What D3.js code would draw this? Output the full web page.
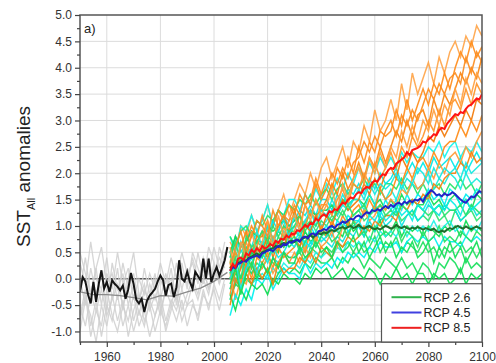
<!DOCTYPE html>
<html>
<head>
<meta charset="utf-8">
<script src="https://cdn.jsdelivr.net/npm/d3@7"></script>
<style>
  body { margin: 0; background: #fff; }
  svg { display: block; font-family: "Liberation Sans", Arial, sans-serif; }
</style>
</head>
<body>
<svg id="chart" width="496" height="363"></svg>
<script>
// ---------- data ----------
// Historical period, multi-model mean (yearly, 1950-2005)
const histYears = d3.range(1950, 2006);
const histMean = [
  -0.25, 0.03, -0.05, -0.30, -0.47, -0.06, -0.44, -0.10, 0.16, -0.19,
  -0.06, -0.25, -0.03, -0.10, -0.15, -0.22, -0.13, -0.38, -0.20, 0.11,
  -0.10, -0.40, -0.47, -0.38, -0.63, -0.42, -0.32, -0.26, -0.19, -0.05,
  0.06, -0.03, -0.32, -0.12, -0.09, -0.35, -0.16, 0.35, 0.00, -0.05,
  0.13, -0.06, -0.19, 0.13, 0.05, -0.03, 0.38, 0.00, 0.38, -0.06,
  0.10, 0.22, 0.06, 0.20, 0.35, 0.60
];

// Smoothed historical ensemble mean (every 5 years)
const histSmoothYears = d3.range(1950, 2006, 5);
const histSmooth = [-0.25, -0.30, -0.30, -0.32, -0.36, -0.40, -0.32, -0.33, -0.25, -0.18, -0.05, 0.12];

// Historical ensemble members (every 2 years, 1950-2004)
const histMemberYears = d3.range(1950, 2005, 2);
const histMembers = [
  [-0.2, 0.4, -0.3, 0.2, -0.5, 0.1, -0.2,  0.5, -0.1, 0.2, -0.4, 0.0, -0.3, 0.1,
   -0.2, 0.3, -0.1, 0.4, 0.0, 0.5, 0.1,  0.3, -0.1, 0.4, 0.1, 0.6, 0.2, 0.7],
  [-0.7, -0.2, -0.9, -0.4, -1.1, -0.5, -0.8,  -0.3, -0.9, -0.5, -1.0, -0.6, -0.9, -0.4,
   -0.7, -0.3, -0.8, -0.4, -0.6, -0.2, -0.5,  -0.1, -0.4, 0.0, -0.3, 0.2, -0.1, 0.3],
  [0.0, -0.5, 0.2, -0.3, 0.1, -0.6, 0.3,  -0.2, 0.1, -0.5, -0.1, -0.7, -0.2, -0.5,
   0.0, -0.4, 0.1, -0.3, 0.3, -0.2, 0.2,  -0.2, 0.5, 0.0, 0.4, -0.1, 0.6, 0.3],
  [-1.0, -0.4, -0.7, -1.2, -0.5, -0.9, -0.3,  -0.8, -0.4, -1.1, -0.6, -0.3, -0.8, -0.5,
   -1.0, -0.6, -0.9, -0.5, -0.8, -0.4, -0.9,  -0.5, -0.7, -0.2, -0.6, -0.1, -0.4, 0.0],
  [0.3, -0.1, 0.7, 0.0, -0.2, 0.4, -0.4,  0.2, -0.6, 0.0, 0.5, -0.3, -0.6, -0.1,
   -0.4, 0.0, -0.3, 0.2, -0.5, 0.1, -0.1,  0.4, 0.0, 0.2, -0.2, 0.3, 0.0, 0.5],
  [-0.5, -0.9, -0.3, -0.6, -0.2, -0.7, -0.4,  -0.1, -0.5, -0.2, -0.8, -0.4, -0.1, -0.6,
   -0.3, -0.7, -0.2, -0.5, -0.1, -0.6, -0.3,  0.0, -0.3, 0.2, -0.2, 0.1, 0.4, 0.2],
  [0.5, 0.1, -0.3, 0.2, 0.6, -0.1, 0.1,  -0.4, 0.3, -0.2, 0.1, -0.5, 0.2, -0.3,
   0.1, -0.6, -0.2, 0.0, -0.4, 0.3, -0.2,  0.5, 0.2, -0.1, 0.6, 0.3, -0.1, 0.4],
  [-0.8, -0.3, -1.1, -0.6, -0.9, -0.2, -0.7,  -1.0, -0.5, -0.8, -0.3, -0.9, -0.6, -1.1,
   -0.7, -0.4, -1.0, -0.6, -0.3, -0.8, -0.5,  -0.4, -0.8, -0.3, -0.5, -0.2, -0.6, -0.1]
];

// Projections: scenario means (yearly, 2006-2100)
const projYears = d3.range(2006, 2101);
const rcp26Mean = [
  0.20, 0.25, 0.22, 0.30, 0.32,  0.36, 0.34, 0.40, 0.42, 0.45,
  0.48, 0.44, 0.50, 0.52, 0.55,  0.56, 0.58, 0.62, 0.60, 0.65,
  0.68, 0.66, 0.70, 0.72, 0.70,  0.74, 0.72, 0.76, 0.78, 0.80,
  0.82, 0.78, 0.84, 0.86, 0.84,  0.88, 0.86, 0.90, 0.92, 0.90,
  0.94, 0.96, 0.98, 0.95, 0.98,  1.00, 0.96, 0.98, 1.02, 0.97,
  0.95, 0.98, 1.00, 0.96, 0.94,  0.96, 0.93, 0.97, 1.00, 0.98,
  0.95, 0.97, 1.02, 0.98, 0.96,  0.99, 0.96, 0.94, 0.97, 0.95,
  0.98, 0.96, 0.93, 0.96, 0.94,  0.92, 0.95, 0.90, 0.88, 0.91,
  0.89, 0.93, 0.96, 0.94, 0.98,  1.00, 0.97, 0.95, 0.99, 0.96,
  0.94, 0.97, 0.99, 0.96, 0.95
];
const rcp45Mean = [
  0.15, 0.22, 0.20, 0.28, 0.30,  0.34, 0.32, 0.38, 0.40, 0.42,
  0.44, 0.40, 0.48, 0.50, 0.53,  0.55, 0.52, 0.58, 0.62, 0.60,
  0.66, 0.64, 0.70, 0.68, 0.72,  0.74, 0.70, 0.78, 0.80, 0.76,
  0.84, 0.86, 0.82, 0.90, 0.91,  0.94, 0.92, 0.98, 1.00, 0.96,
  1.02, 1.04, 1.08, 1.06, 1.10,  1.14, 1.12, 1.18, 1.20, 1.16,
  1.22, 1.26, 1.24, 1.30, 1.28,  1.32, 1.29, 1.34, 1.38, 1.34,
  1.40, 1.36, 1.42, 1.44, 1.40,  1.46, 1.43, 1.48, 1.45, 1.50,
  1.48, 1.52, 1.46, 1.56, 1.62,  1.68, 1.64, 1.58, 1.60, 1.56,
  1.62, 1.58, 1.60, 1.64, 1.60,  1.55, 1.50, 1.46, 1.44, 1.50,
  1.56, 1.54, 1.60, 1.66, 1.64
];
const rcp85Mean = [
  0.15, 0.28, 0.22, 0.38, 0.40,  0.35, 0.48, 0.44, 0.55, 0.50,
  0.58, 0.52, 0.62, 0.57, 0.60,  0.66, 0.62, 0.72, 0.68, 0.76,
  0.74, 0.82, 0.78, 0.86, 0.84,  0.92, 0.90, 0.96, 1.02, 0.98,
  1.06, 1.04, 1.14, 1.10, 1.18,  1.22, 1.18, 1.28, 1.26, 1.32,
  1.30, 1.38, 1.44, 1.42, 1.50,  1.54, 1.52, 1.60, 1.64, 1.62,
  1.70, 1.74, 1.72, 1.82, 1.86,  1.84, 1.93, 1.98, 1.96, 2.06,
  2.10, 2.08, 2.18, 2.22, 2.26,  2.30, 2.40, 2.34, 2.44, 2.46,
  2.48, 2.52, 2.60, 2.58, 2.64,  2.68, 2.74, 2.72, 2.82, 2.86,
  2.84, 2.94, 3.00, 3.06, 3.12,  3.10, 3.16, 3.14, 3.22, 3.28,
  3.30, 3.36, 3.42, 3.40, 3.50
];

// Projection ensemble members (every 2 years, 2006-2100)
const projMemberYears = d3.range(2006, 2101, 2);
const rcp85Members = [
  [0.7, 0.5, 1.0, 0.8, 1.2, 0.9,  1.1, 1.4, 1.0, 1.3, 1.6, 1.2,  1.5, 1.8, 1.6, 2.0, 1.7, 2.1,
   2.3, 1.9, 2.2, 2.5, 2.1, 2.6,  2.4, 2.9, 2.6, 3.2, 2.8, 3.0,  3.4, 3.0, 3.7, 3.2, 3.9, 3.5,
   3.8, 4.1, 3.7, 4.2, 3.9, 4.3,  4.5, 4.2, 4.6, 4.4, 4.8, 4.6],
  [0.3, 0.8, 0.6, 0.7, 1.0, 0.8,  1.2, 0.9, 1.0, 1.3, 1.1, 1.4,  1.2, 1.6, 1.4, 1.5, 1.9, 1.6,
   1.9, 1.7, 2.1, 1.9, 2.3, 2.0,  2.5, 2.2, 2.6, 2.4, 2.8, 2.7,  2.8, 3.2, 2.9, 3.4, 3.0, 3.3,
   3.6, 3.3, 3.7, 3.5, 3.9, 3.6,  4.0, 4.3, 4.1, 4.5, 4.2, 4.4],
  [0.5, 0.2, 0.6, 0.9, 0.5, 0.8,  0.8, 1.1, 0.7, 1.0, 1.2, 0.9,  1.3, 1.0, 1.4, 1.2, 1.5, 1.3,
   1.5, 1.8, 1.6, 2.0, 1.7, 1.9,  2.2, 1.9, 2.3, 2.1, 2.5, 2.2,  2.5, 2.8, 2.6, 3.0, 2.7, 3.1,
   3.2, 2.9, 3.4, 3.1, 3.5, 3.3,  3.6, 3.9, 3.7, 4.0, 3.8, 4.2],
  [0.0, 0.5, 0.3, 0.7, 0.4, 0.6,  0.9, 0.6, 0.8, 0.5, 1.0, 0.7,  0.9, 1.2, 1.0, 1.3, 1.1, 1.4,
   1.4, 1.2, 1.5, 1.7, 1.4, 1.8,  1.7, 2.0, 1.8, 2.2, 1.9, 2.1,  2.4, 2.1, 2.5, 2.3, 2.7, 2.5,
   2.7, 3.0, 2.8, 3.2, 2.9, 3.3,  3.4, 3.2, 3.6, 3.3, 3.7, 3.5],
  [0.3, -0.1, 0.2, 0.5, 0.2, 0.6,  0.5, 0.8, 0.4, 0.7, 0.6, 0.9,  0.8, 0.6, 1.0, 0.9, 1.2, 0.9,
   1.2, 1.0, 1.3, 1.5, 1.3, 1.4,  1.5, 1.8, 1.6, 1.9, 1.7, 2.0,  2.1, 1.9, 2.3, 2.1, 2.4, 2.2,
   2.4, 2.7, 2.6, 2.9, 2.7, 2.9,  3.1, 2.9, 3.2, 3.0, 3.4, 3.3],
  [-0.3, 0.2, -0.1, 0.3, 0.0, 0.4,  0.3, 0.5, 0.2, 0.6, 0.4, 0.5,  0.6, 0.8, 0.5, 0.9, 0.7, 1.0,
   0.8, 1.1, 0.9, 1.2, 1.0, 1.3,  1.4, 1.2, 1.5, 1.3, 1.7, 1.5,  1.6, 1.9, 1.8, 2.1, 1.9, 2.2,
   2.3, 2.1, 2.4, 2.2, 2.5, 2.6,  2.6, 2.9, 2.7, 3.0, 2.8, 3.1],
  [0.1, -0.4, 0.0, -0.1, 0.3, 0.1,  0.2, 0.4, 0.1, 0.3, 0.5, 0.3,  0.5, 0.3, 0.6, 0.4, 0.8, 0.6,
   0.7, 0.9, 0.6, 1.0, 0.8, 1.1,  1.0, 1.3, 1.1, 1.2, 1.4, 1.3,  1.5, 1.4, 1.7, 1.6, 1.9, 1.7,
   1.8, 2.1, 1.9, 2.2, 2.0, 2.3,  2.4, 2.2, 2.5, 2.3, 2.6, 2.8],
  [-0.5, 0.0, -0.2, 0.1, -0.1, 0.2,  0.0, 0.2, -0.1, 0.3, 0.1, 0.2,  0.2, 0.4, 0.3, 0.5, 0.3, 0.6,
   0.5, 0.4, 0.7, 0.6, 0.8, 0.7,  0.8, 1.0, 0.9, 1.1, 1.0, 1.2,  1.2, 1.1, 1.4, 1.3, 1.5, 1.4,
   1.6, 1.5, 1.8, 1.7, 1.9, 2.0,  2.0, 2.2, 2.1, 2.4, 2.2, 2.3],
  [0.6, 0.1, 0.7, 0.4, 0.9, 0.5,  0.7, 1.1, 0.6, 1.2, 0.8, 1.1,  1.2, 0.9, 1.4, 1.1, 1.5, 1.2,
   1.4, 1.7, 1.3, 1.8, 1.5, 1.9,  2.1, 1.8, 2.3, 2.0, 2.4, 2.1,  2.5, 2.3, 2.8, 2.5, 2.9, 2.6,
   3.0, 2.8, 3.2, 2.9, 3.3, 3.1,  3.6, 3.3, 3.8, 3.5, 3.9, 3.7],
  [0.2, 0.6, 0.9, 0.5, 0.8, 1.1,  1.0, 0.8, 1.3, 1.0, 1.2, 1.1,  1.4, 1.2, 1.6, 1.4, 1.8, 1.5,
   1.7, 2.0, 1.8, 2.1, 1.9, 2.2,  2.3, 2.6, 2.4, 2.7, 2.5, 2.8,  3.0, 2.7, 3.1, 2.9, 3.2, 3.0,
   3.3, 3.6, 3.4, 3.7, 3.5, 3.8,  3.9, 3.7, 4.2, 3.9, 4.3, 4.1]
];
const rcp45Members = [
  [0.8, 0.5, 1.0, 0.9, 1.2, 0.9,  1.1, 1.4, 1.0, 1.3, 1.2, 1.5,  1.5, 1.3, 1.6, 1.4, 1.7, 1.5,
   1.8, 1.6, 1.9, 1.7, 2.0, 1.8,  2.1, 1.9, 2.2, 2.0, 2.3, 2.1,  2.3, 2.1, 2.4, 2.2, 2.4, 2.3,
   2.3, 2.5, 2.4, 2.6, 2.3, 2.5,  2.6, 2.3, 2.5, 2.4, 2.6, 2.4],
  [0.4, 0.8, 0.5, 0.7, 0.9, 0.7,  0.9, 0.8, 1.1, 0.9, 1.2, 1.0,  1.1, 1.3, 1.2, 1.4, 1.2, 1.5,
   1.5, 1.3, 1.6, 1.4, 1.7, 1.6,  1.8, 1.6, 1.9, 1.7, 2.0, 1.8,  1.9, 2.1, 1.8, 2.0, 2.2, 2.0,
   2.2, 2.0, 2.3, 2.1, 2.2, 2.3,  2.1, 2.3, 2.0, 2.2, 2.4, 2.2],
  [0.1, 0.5, 0.3, 0.6, 0.4, 0.7,  0.7, 0.5, 0.8, 0.6, 0.9, 0.8,  1.0, 0.8, 1.1, 0.9, 1.2, 1.0,
   1.1, 1.3, 1.2, 1.4, 1.3, 1.5,  1.5, 1.3, 1.6, 1.4, 1.7, 1.5,  1.7, 1.5, 1.8, 1.6, 1.8, 1.7,
   1.8, 2.0, 1.7, 1.9, 1.8, 2.0,  1.9, 1.7, 2.0, 1.8, 1.9, 1.8],
  [0.2, -0.1, 0.3, 0.1, 0.5, 0.4,  0.4, 0.6, 0.5, 0.7, 0.6, 0.8,  0.7, 0.9, 0.6, 1.0, 0.8, 0.9,
   1.0, 0.8, 1.1, 1.0, 1.2, 1.1,  1.1, 1.3, 1.2, 1.4, 1.2, 1.5,  1.3, 1.5, 1.3, 1.6, 1.4, 1.6,
   1.5, 1.7, 1.5, 1.6, 1.4, 1.7,  1.6, 1.4, 1.6, 1.5, 1.7, 1.6],
  [-0.2, 0.2, 0.0, 0.3, 0.1, 0.2,  0.3, 0.1, 0.4, 0.3, 0.5, 0.4,  0.4, 0.6, 0.5, 0.7, 0.6, 0.8,
   0.7, 0.6, 0.8, 0.7, 0.9, 0.8,  1.0, 0.8, 1.1, 0.9, 1.2, 1.0,  1.1, 1.3, 1.0, 1.2, 1.3, 1.1,
   1.2, 1.4, 1.3, 1.2, 1.4, 1.3,  1.3, 1.1, 1.2, 1.4, 1.2, 1.3],
  [-0.4, 0.0, -0.2, 0.1, -0.1, 0.0,  0.1, 0.0, 0.2, 0.1, 0.3, 0.2,  0.3, 0.2, 0.4, 0.3, 0.5, 0.4,
   0.5, 0.4, 0.6, 0.5, 0.7, 0.6,  0.7, 0.6, 0.8, 0.7, 0.9, 0.8,  0.9, 0.8, 1.0, 0.8, 1.0, 0.9,
   1.0, 0.9, 1.1, 0.9, 1.0, 1.1,  0.9, 1.0, 0.8, 1.0, 0.9, 1.1],
  [-0.7, -0.3, -0.5, -0.2, -0.4, 0.0,  -0.1, 0.1, -0.2, 0.0, 0.2, 0.1,  0.1, 0.0, 0.3, 0.1, 0.3, 0.2,
   0.3, 0.2, 0.4, 0.3, 0.5, 0.4,  0.5, 0.4, 0.6, 0.5, 0.7, 0.6,  0.6, 0.7, 0.5, 0.7, 0.8, 0.7,
   0.8, 0.7, 0.8, 0.6, 0.8, 0.7,  0.7, 0.6, 0.8, 0.7, 0.8, 0.7],
  [0.5, 0.2, 0.7, 0.4, 0.6, 0.9,  0.6, 1.0, 0.7, 0.9, 1.1, 0.8,  1.2, 0.9, 1.1, 1.3, 1.0, 1.3,
   1.2, 1.5, 1.3, 1.6, 1.4, 1.5,  1.7, 1.5, 1.8, 1.6, 1.8, 1.7,  1.8, 2.0, 1.7, 1.9, 1.8, 2.1,
   2.0, 1.8, 2.1, 1.9, 2.1, 2.0,  2.1, 1.9, 2.2, 2.0, 2.1, 2.2],
  [0.0, 0.3, -0.2, 0.2, 0.4, 0.1,  0.5, 0.3, 0.6, 0.4, 0.5, 0.7,  0.6, 0.8, 0.7, 0.6, 0.9, 0.7,
   0.8, 1.0, 0.9, 1.1, 0.9, 1.0,  1.1, 0.9, 1.2, 1.1, 1.3, 1.1,  1.2, 1.4, 1.2, 1.3, 1.1, 1.4,
   1.3, 1.5, 1.3, 1.4, 1.3, 1.5,  1.4, 1.2, 1.5, 1.3, 1.4, 1.5]
];
const rcp26Members = [
  [0.8, 0.6, 0.9, 1.0, 0.8, 1.1,  1.0, 1.2, 1.1, 1.3, 1.2, 1.4,  1.3, 1.5, 1.4, 1.6, 1.4, 1.6,
   1.7, 1.5, 1.7, 1.8, 1.6, 1.8,  1.7, 1.9, 1.7, 1.8, 1.6, 1.8,  1.8, 1.7, 1.9, 1.7, 1.8, 1.6,
   1.8, 1.6, 1.7, 1.8, 1.6, 1.8,  1.7, 1.9, 1.7, 1.8, 1.6, 1.8],
  [0.5, 0.8, 0.6, 0.7, 0.9, 0.8,  0.8, 1.0, 0.9, 1.0, 1.1, 1.0,  1.1, 1.2, 1.0, 1.3, 1.2, 1.3,
   1.3, 1.4, 1.2, 1.5, 1.4, 1.5,  1.5, 1.4, 1.6, 1.4, 1.5, 1.3,  1.5, 1.3, 1.6, 1.4, 1.5, 1.4,
   1.4, 1.6, 1.4, 1.5, 1.3, 1.5,  1.6, 1.4, 1.5, 1.3, 1.6, 1.5],
  [0.3, 0.5, 0.2, 0.6, 0.5, 0.7,  0.6, 0.8, 0.7, 0.9, 0.8, 0.9,  0.9, 0.8, 1.0, 1.1, 0.9, 1.1,
   1.0, 1.2, 1.1, 1.3, 1.1, 1.2,  1.3, 1.1, 1.2, 1.4, 1.1, 1.2,  1.2, 1.3, 1.1, 1.2, 1.3, 1.1,
   1.2, 1.1, 1.3, 1.1, 1.2, 1.0,  1.3, 1.1, 1.2, 1.3, 1.1, 1.2],
  [0.0, 0.3, 0.4, 0.2, 0.5, 0.4,  0.6, 0.4, 0.6, 0.5, 0.8, 0.6,  0.7, 0.6, 0.9, 0.7, 0.8, 0.9,
   0.8, 1.0, 0.9, 0.8, 1.1, 0.9,  1.0, 0.8, 1.0, 0.9, 1.1, 0.8,  0.9, 1.1, 0.8, 1.0, 0.9, 1.0,
   0.8, 1.0, 0.9, 0.8, 1.0, 0.9,  1.0, 0.8, 1.1, 0.9, 1.0, 0.9],
  [-0.2, 0.1, 0.0, 0.2, 0.1, 0.3,  0.2, 0.4, 0.3, 0.2, 0.5, 0.4,  0.4, 0.5, 0.3, 0.6, 0.5, 0.4,
   0.6, 0.5, 0.7, 0.6, 0.7, 0.5,  0.7, 0.5, 0.6, 0.8, 0.5, 0.7,  0.6, 0.8, 0.5, 0.7, 0.6, 0.5,
   0.7, 0.5, 0.6, 0.4, 0.6, 0.5,  0.6, 0.7, 0.5, 0.6, 0.4, 0.6],
  [-0.4, -0.1, -0.2, 0.0, -0.1, 0.1,  0.0, 0.2, -0.1, 0.1, 0.2, 0.1,  0.2, 0.1, 0.3, 0.2, 0.4, 0.3,
   0.3, 0.4, 0.2, 0.4, 0.3, 0.5,  0.4, 0.2, 0.4, 0.3, 0.2, 0.4,  0.3, 0.2, 0.4, 0.2, 0.3, 0.1,
   0.3, 0.2, 0.0, 0.3, 0.2, 0.4,  0.3, 0.1, 0.4, 0.2, 0.3, 0.2],
  [-0.3, -0.6, -0.2, -0.4, -0.1, -0.2,  -0.1, -0.3, 0.0, -0.1, 0.1, 0.0,  0.0, -0.1, 0.1, 0.0, 0.2, 0.1,
   0.2, 0.0, 0.1, 0.2, 0.0, 0.2,  0.1, 0.0, 0.2, 0.1, -0.1, 0.1,  0.0, 0.2, 0.0, 0.1, -0.1, 0.1,
   0.1, -0.1, 0.1, 0.0, 0.1, -0.1,  0.0, 0.2, -0.1, 0.1, 0.0, 0.1],
  [0.4, 0.7, 0.3, 0.8, 0.6, 0.7,  0.9, 0.7, 1.0, 0.8, 1.0, 0.9,  1.0, 1.2, 0.9, 1.1, 1.0, 1.2,
   1.2, 1.1, 1.3, 1.2, 1.4, 1.2,  1.3, 1.4, 1.2, 1.3, 1.4, 1.2,  1.3, 1.2, 1.4, 1.3, 1.2, 1.4,
   1.3, 1.2, 1.3, 1.4, 1.2, 1.3,  1.3, 1.4, 1.2, 1.4, 1.3, 1.2],
  [-0.1, 0.2, -0.3, 0.1, 0.3, 0.0,  0.3, 0.1, 0.4, 0.2, 0.5, 0.3,  0.3, 0.6, 0.4, 0.5, 0.7, 0.5,
   0.6, 0.4, 0.7, 0.5, 0.6, 0.8,  0.5, 0.7, 0.4, 0.6, 0.8, 0.5,  0.7, 0.4, 0.6, 0.5, 0.7, 0.4,
   0.5, 0.7, 0.3, 0.6, 0.4, 0.7,  0.4, 0.6, 0.3, 0.5, 0.7, 0.4],
  [0.1, 0.4, 0.0, 0.5, 0.2, 0.6,  0.4, 0.7, 0.5, 0.8, 0.6, 0.7,  0.8, 0.5, 0.7, 0.9, 0.6, 0.8,
   0.9, 0.7, 0.8, 1.0, 0.8, 1.1,  0.8, 0.9, 0.7, 1.0, 0.8, 0.9,  0.8, 1.0, 0.7, 0.9, 0.8, 0.6,
   0.9, 0.7, 0.8, 1.0, 0.7, 0.8,  0.7, 0.9, 0.8, 0.7, 0.9, 0.8]
];

// Axis ticks and legend entries
const xMajorTicks = [1960, 1980, 2000, 2020, 2040, 2060, 2080, 2100];
const xMinorTicks = [1950, 1970, 1990, 2010, 2030, 2050, 2070, 2090];
const yMajorTicks = [-1.0, -0.5, 0.0, 0.5, 1.0, 1.5, 2.0, 2.5, 3.0, 3.5, 4.0, 4.5, 5.0];
const yMinorTicks = [-0.75, -0.25, 0.25, 0.75, 1.25, 1.75, 2.25, 2.75, 3.25, 3.75, 4.25, 4.75];
const legendLabels = ["RCP 2.6", "RCP 4.5", "RCP 8.5"];
const legendColors = ["#2fb24c", "#4040e0", "#ee2020"];

// ---------- layout ----------
const svg = d3.select("#chart");
const plotL = 80, plotR = 482, plotT = 15, plotB = 342;

const x = d3.scaleLinear().domain([1950, 2100]).range([plotL, plotR]);
const y = d3.scaleLinear().domain([-1.2, 5.0]).range([plotB, plotT]);

svg.append("defs").append("clipPath").attr("id", "plotClip")
  .append("rect").attr("x", plotL).attr("y", plotT)
  .attr("width", plotR - plotL).attr("height", plotB - plotT);

// grid
const grid = svg.append("g");
grid.selectAll("line.gx").data(xMajorTicks.filter(d => d < 2100)).join("line")
  .attr("x1", d => x(d)).attr("x2", d => x(d))
  .attr("y1", plotT).attr("y2", plotB)
  .attr("stroke", "#dcdcdc").attr("stroke-width", 1);
grid.selectAll("line.gy").data(yMajorTicks.filter(d => d < 5)).join("line")
  .attr("x1", plotL).attr("x2", plotR)
  .attr("y1", d => y(d)).attr("y2", d => y(d))
  .attr("stroke", "#dcdcdc").attr("stroke-width", 1);

// zero reference line
svg.append("line")
  .attr("x1", plotL).attr("x2", plotR)
  .attr("y1", y(0)).attr("y2", y(0))
  .attr("stroke", "#555").attr("stroke-width", 1.4);

const plot = svg.append("g").attr("clip-path", "url(#plotClip)");

const lineOf = years => d3.line()
  .x((d, i) => x(years[i]))
  .y(d => y(d));

// historical ensemble
const histLine = lineOf(histMemberYears);
plot.selectAll("path.hist").data(histMembers).join("path")
  .attr("d", histLine)
  .attr("fill", "none").attr("stroke", "#cfcfcf").attr("stroke-width", 1.3).attr("opacity", 0.85);

plot.append("path").datum(histSmooth)
  .attr("d", lineOf(histSmoothYears))
  .attr("fill", "none").attr("stroke", "#8a8a8a").attr("stroke-width", 1.3);

plot.append("path").datum(histMean)
  .attr("d", lineOf(histYears))
  .attr("fill", "none").attr("stroke", "#151515").attr("stroke-width", 2);

// projection ensembles, interleaved so all three scenarios show through
const memberLine = lineOf(projMemberYears);
const orangeShades = ["#ffa54a", "#ff8c1a", "#f98410", "#ff9428", "#f27a08", "#ff8a14", "#ff9a36", "#f5800e", "#ffa040", "#fb8c20"];
const cyanShades = ["#10f4ee", "#00e8e8", "#18ecdc", "#00eef0", "#0ae4dc", "#20f2e6", "#00f0f0", "#12e8e0", "#06eee6"];
const greenShades = ["#22e468", "#10dc54", "#2ee472", "#0cdc50", "#22e060", "#18e05c", "#0ada50", "#28e26c", "#14de58", "#26e266"];
const nMax = Math.max(rcp85Members.length, rcp45Members.length, rcp26Members.length);
for (let i = 0; i < nMax; i++) {
  if (rcp85Members[i]) plot.append("path").datum(rcp85Members[i]).attr("d", memberLine)
    .attr("fill", "none").attr("stroke", orangeShades[i]).attr("stroke-width", 1.5).attr("opacity", 0.92);
  if (rcp45Members[i]) plot.append("path").datum(rcp45Members[i]).attr("d", memberLine)
    .attr("fill", "none").attr("stroke", cyanShades[i]).attr("stroke-width", 1.5).attr("opacity", 0.92);
  if (rcp26Members[i]) plot.append("path").datum(rcp26Members[i]).attr("d", memberLine)
    .attr("fill", "none").attr("stroke", greenShades[i]).attr("stroke-width", 1.5).attr("opacity", 0.92);
}

// scenario means
const meanLine = lineOf(projYears);
[[rcp26Mean, "#1d6e2c"], [rcp45Mean, "#2424c8"], [rcp85Mean, "#ff1414"]].forEach(([vals, col]) => {
  plot.append("path").datum(vals).attr("d", meanLine)
    .attr("fill", "none").attr("stroke", col).attr("stroke-width", 2);
});

// frame
svg.append("rect")
  .attr("x", plotL).attr("y", plotT)
  .attr("width", plotR - plotL).attr("height", plotB - plotT)
  .attr("fill", "none").attr("stroke", "#555").attr("stroke-width", 1.5);

// axes
const tickColor = "#444";
const yAxis = svg.append("g").attr("transform", `translate(${plotL},0)`)
  .call(d3.axisLeft(y).tickValues(yMajorTicks).tickSize(5).tickPadding(3)
    .tickFormat(d => d.toFixed(1)));
const yMinor = svg.append("g").attr("transform", `translate(${plotL},0)`)
  .call(d3.axisLeft(y).tickValues(yMinorTicks).tickSize(3).tickFormat(""));
const xAxis = svg.append("g").attr("transform", `translate(0,${plotB})`)
  .call(d3.axisBottom(x).tickValues(xMajorTicks).tickSize(5).tickPadding(5)
    .tickFormat(d3.format("d")));
const xMinor = svg.append("g").attr("transform", `translate(0,${plotB})`)
  .call(d3.axisBottom(x).tickValues(xMinorTicks).tickSize(3).tickFormat(""));
[yAxis, yMinor, xAxis, xMinor].forEach(g => {
  g.select(".domain").remove();
  g.selectAll(".tick line").attr("stroke", tickColor).attr("stroke-width", 1.2);
  g.selectAll(".tick text").attr("fill", "#333").attr("font-size", 12)
    .attr("font-family", "Liberation Sans, Arial, sans-serif");
});

// panel tag
svg.append("text").attr("x", plotL + 4).attr("y", plotT + 18)
  .attr("font-size", 13).attr("fill", "#222").text("a)");

// y axis title
const yTitle = svg.append("text")
  .attr("transform", `translate(30,${(plotT + plotB) / 2 - 2}) rotate(-90)`)
  .attr("text-anchor", "middle").attr("font-size", 19).attr("fill", "#222");
yTitle.append("tspan").text("SST");
yTitle.append("tspan").attr("font-size", 11).attr("dy", 5).text("All");
yTitle.append("tspan").attr("dy", -5).text(" anomalies");

// legend
const lgX = x(2062.5), lgY = y(0) + 5;
const legend = svg.append("g");
legend.append("rect")
  .attr("x", lgX).attr("y", lgY)
  .attr("width", plotR - lgX).attr("height", plotB - lgY)
  .attr("fill", "#fff").attr("stroke", "#555").attr("stroke-width", 1.2);
legendLabels.forEach((lab, i) => {
  const cy = lgY + 13.5 + i * 15.3;
  legend.append("line")
    .attr("x1", lgX + 10).attr("x2", lgX + 40)
    .attr("y1", cy).attr("y2", cy)
    .attr("stroke", legendColors[i]).attr("stroke-width", 2);
  legend.append("text")
    .attr("x", lgX + 42).attr("y", cy + 4.5)
    .attr("font-size", 12.5).attr("fill", "#222").text(lab);
});
</script>
</body>
</html>
